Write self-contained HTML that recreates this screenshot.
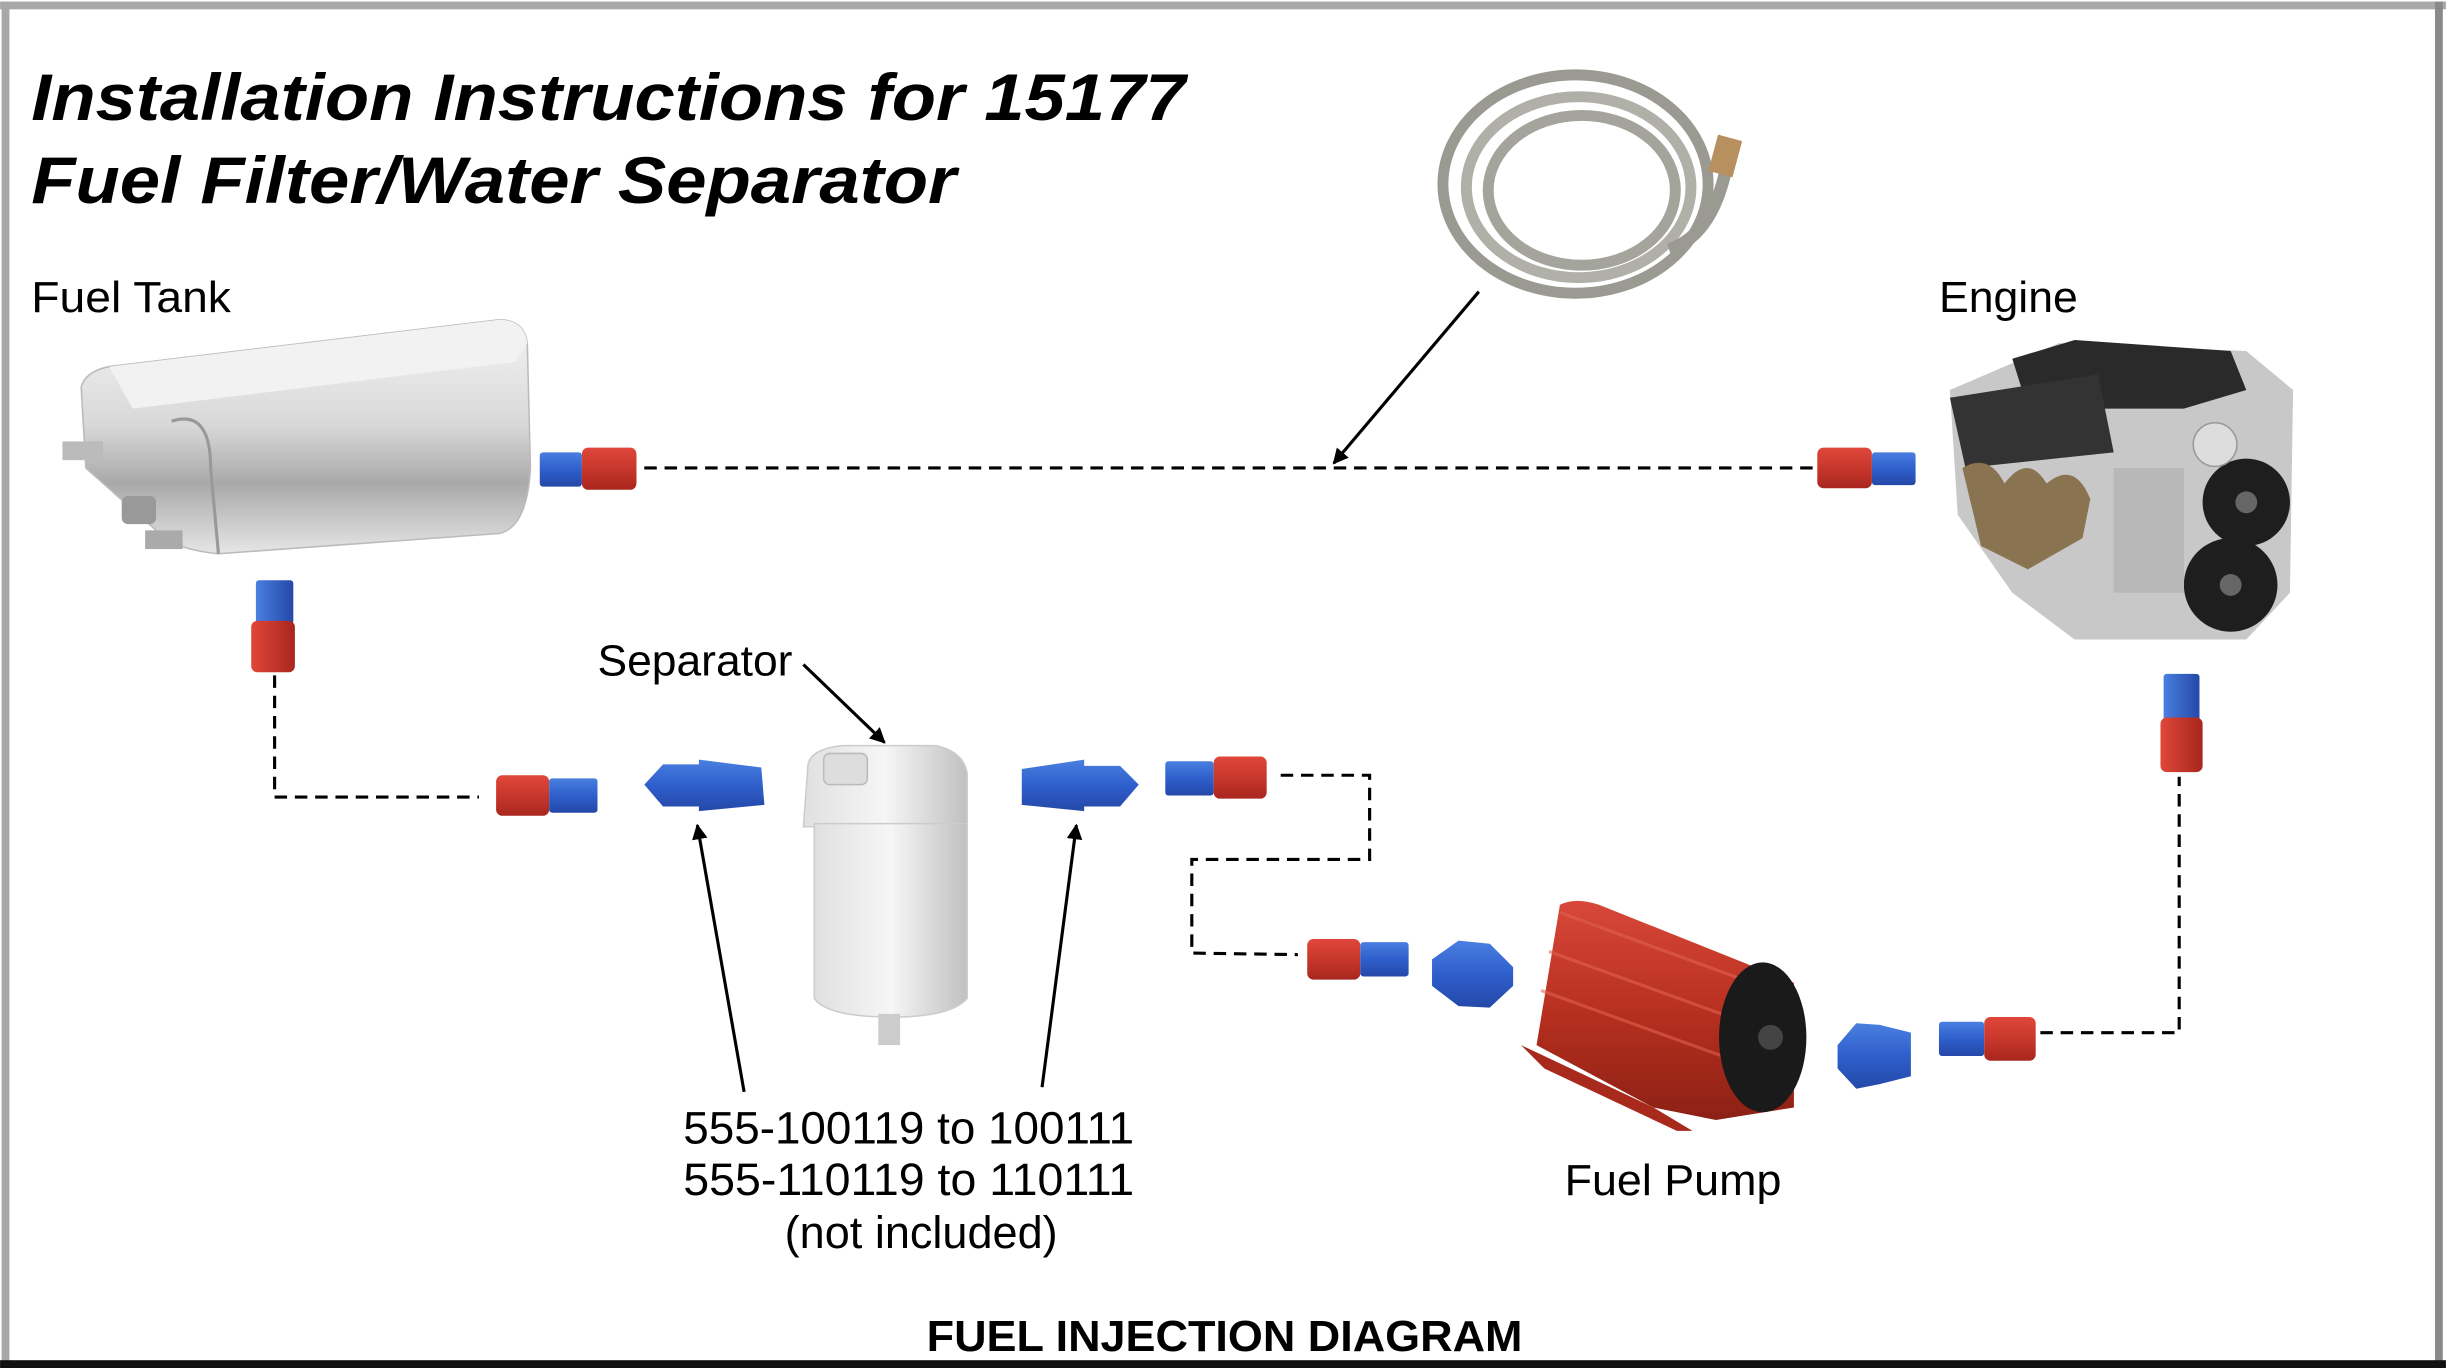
<!DOCTYPE html>
<html><head><meta charset="utf-8"><style>
html,body{margin:0;padding:0;background:#fff;}
svg{display:block;}
text{font-family:"Liberation Sans",Arial,sans-serif;fill:#000;}
</style></head><body>
<svg width="2446" height="1368" viewBox="0 0 1568 877" xmlns="http://www.w3.org/2000/svg">
<defs>
<linearGradient id="silver" x1="0" y1="0" x2="0" y2="1">
<stop offset="0" stop-color="#f4f4f4"/><stop offset=".45" stop-color="#d8d8d8"/><stop offset=".7" stop-color="#a9a9a9"/><stop offset="1" stop-color="#e6e6e6"/></linearGradient>
<linearGradient id="silverH" x1="0" y1="0" x2="1" y2="0">
<stop offset="0" stop-color="#e0e0e0"/><stop offset=".5" stop-color="#f6f6f6"/><stop offset="1" stop-color="#c0c0c0"/></linearGradient>
<linearGradient id="red" x1="0" y1="0" x2="0" y2="1">
<stop offset="0" stop-color="#e0473a"/><stop offset=".5" stop-color="#c8372c"/><stop offset="1" stop-color="#a8261e"/></linearGradient>
<linearGradient id="blue" x1="0" y1="0" x2="0" y2="1">
<stop offset="0" stop-color="#4a7fe0"/><stop offset=".5" stop-color="#2f5fcc"/><stop offset="1" stop-color="#2448a8"/></linearGradient>
<linearGradient id="redV" x1="0" y1="0" x2="1" y2="0">
<stop offset="0" stop-color="#e0473a"/><stop offset="1" stop-color="#a8261e"/></linearGradient>
<linearGradient id="blueV" x1="0" y1="0" x2="1" y2="0">
<stop offset="0" stop-color="#4a7fe0"/><stop offset="1" stop-color="#2448a8"/></linearGradient>
<linearGradient id="pump" x1="0" y1="0" x2="0" y2="1">
<stop offset="0" stop-color="#d8483a"/><stop offset=".5" stop-color="#b8301f"/><stop offset="1" stop-color="#8c2015"/></linearGradient>
<marker id="ah" markerWidth="10" markerHeight="10" refX="9" refY="5" orient="auto" markerUnits="userSpaceOnUse" viewBox="0 0 10 10"><path d="M0,0 L10,5 L0,10 z" fill="#000"/></marker>
</defs>
<rect x="0" y="0" width="1568" height="877" fill="#fff"/>
<rect x="0" y="1" width="1568" height="5" fill="#a8a8a8"/>
<rect x="1" y="1" width="5" height="876" fill="#a8a8a8"/>
<rect x="1561" y="1" width="5" height="876" fill="#8a8a8a"/>
<rect x="0" y="872" width="1568" height="5" fill="#111"/>

<text x="20" y="77" font-size="42" font-weight="bold" font-style="italic" textLength="740" lengthAdjust="spacingAndGlyphs">Installation Instructions for 15177</text>
<text x="20" y="130" font-size="42" font-weight="bold" font-style="italic" textLength="593" lengthAdjust="spacingAndGlyphs">Fuel Filter/Water Separator</text>
<text x="20" y="200" font-size="28" textLength="128" lengthAdjust="spacingAndGlyphs">Fuel Tank</text>
<text x="1243" y="200" font-size="28" textLength="89" lengthAdjust="spacingAndGlyphs">Engine</text>
<text x="383" y="433" font-size="28" textLength="125" lengthAdjust="spacingAndGlyphs">Separator</text>
<text x="438" y="733" font-size="29" textLength="289" lengthAdjust="spacingAndGlyphs">555-100119 to 100111</text>
<text x="438" y="766" font-size="29" textLength="289" lengthAdjust="spacingAndGlyphs">555-110119 to 110111</text>
<text x="503" y="800" font-size="29" textLength="175" lengthAdjust="spacingAndGlyphs">(not included)</text>
<text x="1003" y="766" font-size="28" textLength="139" lengthAdjust="spacingAndGlyphs">Fuel Pump</text>
<text x="594" y="866" font-size="28" font-weight="bold" textLength="382" lengthAdjust="spacingAndGlyphs">FUEL INJECTION DIAGRAM</text>

<!-- fuel tank -->
<path d="M52,248 Q55,238 70,235 L320,205 Q336,205 338,220 L340,300 Q338,338 320,342 L140,355 Q110,352 100,340 L55,300 Z" fill="url(#silver)" stroke="#bbb"/>
<path d="M70,235 L320,205 Q336,205 338,220 L330,232 L85,262 Z" fill="#f2f2f2"/>
<path d="M110,270 Q135,262 135,300 L140,355" fill="none" stroke="#999" stroke-width="2"/>
<rect x="40" y="283" width="26" height="12" fill="#bbb"/>
<rect x="78" y="318" width="22" height="18" rx="4" fill="#999"/>
<rect x="93" y="340" width="24" height="12" fill="#aaa"/>

<!-- hose coil -->
<g fill="none" stroke="#9a9a92" stroke-width="7">
<ellipse cx="1010" cy="118" rx="85" ry="70"/>
<ellipse cx="1012" cy="120" rx="72" ry="58" stroke="#b0b0a8"/>
<ellipse cx="1014" cy="122" rx="60" ry="48" stroke="#a4a49c"/>
</g>
<path d="M1070,160 Q1100,150 1108,100" fill="none" stroke="#9a9a92" stroke-width="8"/>
<rect x="1098" y="88" width="16" height="24" fill="#b89060" transform="rotate(15 1106 100)"/>

<!-- engine -->
<g>
<path d="M1250,250 L1320,220 L1440,225 L1470,250 L1468,380 L1440,410 L1330,410 L1290,380 L1255,330 Z" fill="#c8c8c8"/>
<path d="M1290,230 L1330,218 L1430,225 L1440,250 L1400,262 L1300,262 Z" fill="#2a2a2a"/>
<path d="M1250,255 L1345,240 L1355,290 L1260,300 Z" fill="#333"/>
<path d="M1258,300 Q1275,290 1285,310 Q1300,290 1312,310 Q1330,295 1340,320 L1335,345 L1300,365 L1270,350 Z" fill="#8a7350"/>
<circle cx="1440" cy="322" r="28" fill="#1e1e1e"/><circle cx="1440" cy="322" r="7" fill="#666"/>
<circle cx="1430" cy="375" r="30" fill="#1e1e1e"/><circle cx="1430" cy="375" r="7" fill="#666"/>
<circle cx="1420" cy="285" r="14" fill="#ddd" stroke="#999"/>
<rect x="1355" y="300" width="45" height="80" fill="#b8b8b8"/>
</g>

<!-- separator -->
<path d="M518,490 Q520,480 540,478 L600,478 Q618,482 620,496 L620,530 L515,530 Z" fill="url(#silverH)" stroke="#ccc"/>
<rect x="528" y="483" width="28" height="20" rx="4" fill="#ddd" stroke="#bbb"/>
<path d="M522,528 L620,528 L620,640 Q610,652 572,652 Q530,652 522,640 Z" fill="url(#silverH)" stroke="#ccc"/>
<rect x="563" y="650" width="14" height="20" fill="#ccc"/>

<g>
<rect x="346" y="290" width="27" height="22" rx="2" fill="url(#blue)"/><rect x="373" y="287" width="35" height="27" rx="4" fill="url(#red)"/>
<rect x="1165" y="287" width="35" height="26" rx="4" fill="url(#red)"/><rect x="1200" y="290" width="28" height="21" rx="2" fill="url(#blue)"/>
<rect x="318" y="497" width="34" height="26" rx="4" fill="url(#red)"/><rect x="352" y="499" width="31" height="22" rx="2" fill="url(#blue)"/>
<rect x="747" y="488" width="31" height="22" rx="2" fill="url(#blue)"/><rect x="778" y="485" width="34" height="27" rx="4" fill="url(#red)"/>
<rect x="838" y="602" width="34" height="26" rx="4" fill="url(#red)"/><rect x="872" y="604" width="31" height="22" rx="2" fill="url(#blue)"/>
<rect x="1243" y="655" width="29" height="22" rx="2" fill="url(#blue)"/><rect x="1272" y="652" width="33" height="28" rx="4" fill="url(#red)"/>
</g>
<rect x="164" y="372" width="24" height="28" rx="2" fill="url(#blueV)"/><rect x="161" y="398" width="28" height="33" rx="4" fill="url(#redV)"/>
<rect x="1387" y="432" width="23" height="30" rx="2" fill="url(#blueV)"/><rect x="1385" y="460" width="27" height="35" rx="4" fill="url(#redV)"/>

<path d="M413,503 L425,490 L448,490 L448,487 L488,492 L490,516 L448,520 L448,517 L425,517 Z" fill="url(#blue)"/>
<path d="M655,493 L695,487 L695,491 L718,491 L730,503 L718,517 L695,517 L695,520 L655,516 Z" fill="url(#blue)"/>
<path d="M918,615 L935,603 L955,605 L970,620 L970,632 L955,646 L935,645 L918,632 Z" fill="url(#blue)"/>
<path d="M1178,670 L1190,656 L1205,657 L1225,662 L1225,690 L1205,695 L1190,698 L1178,685 Z" fill="url(#blue)"/>

<!-- pump -->
<path d="M1000,580 Q1010,575 1025,580 L1150,630 L1150,710 L1100,718 L1060,710 L985,670 Z" fill="url(#pump)"/>
<path d="M1000,585 L1150,640 M993,610 L1145,665 M988,635 L1140,690" stroke="#e06050" stroke-width="2" fill="none" opacity=".6"/>
<ellipse cx="1130" cy="665" rx="28" ry="48" fill="#1a1a1a"/>
<circle cx="1135" cy="665" r="8" fill="#444"/>
<path d="M975,670 L1060,710 L1085,725 L1075,725 L990,685 Z" fill="#a82a1c"/>

<g fill="none" stroke="#000" stroke-width="2" stroke-dasharray="8,5">
<path d="M413,300 L1163,300"/>
<path d="M176,433 L176,511 L307,511"/>
<path d="M821,497 L878,497 L878,551 L764,551 L764,611 L832,612"/>
<path d="M1308,662 L1397,662 L1397,498"/>
</g>

<g stroke="#000" stroke-width="2" fill="none" marker-end="url(#ah)">
<line x1="948" y1="187" x2="855" y2="297"/>
<line x1="515" y1="426" x2="567" y2="476"/>
<line x1="477" y1="700" x2="447" y2="529"/>
<line x1="668" y1="697" x2="690" y2="529"/>
</g>
</svg>
</body></html>
